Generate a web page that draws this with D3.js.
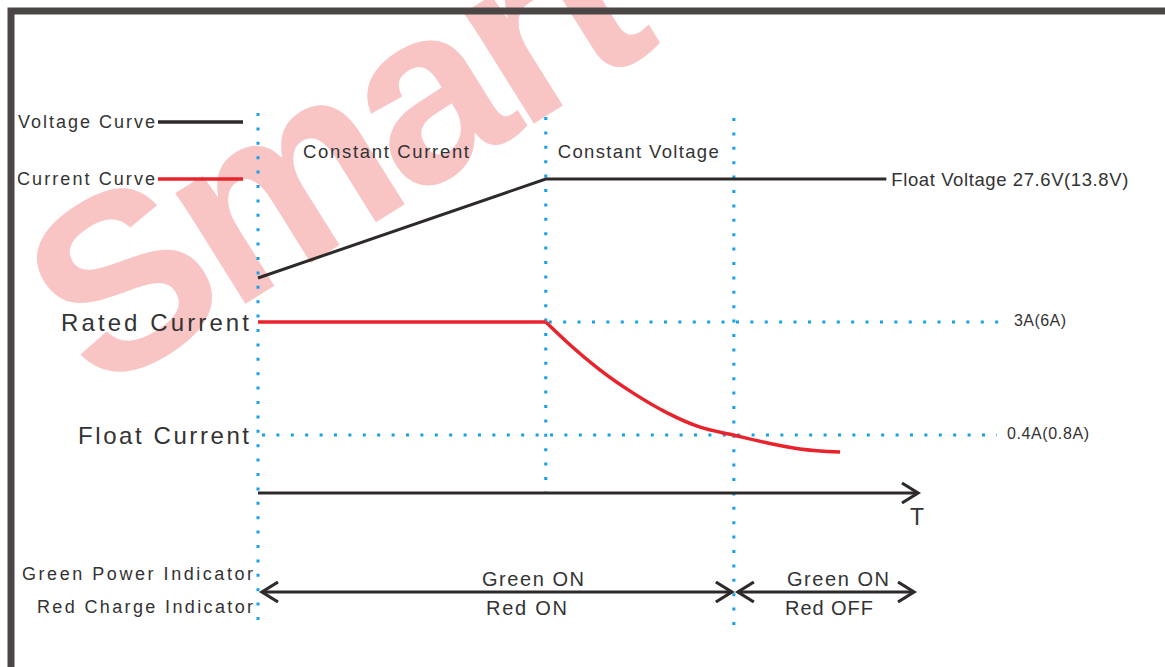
<!DOCTYPE html>
<html>
<head>
<meta charset="utf-8">
<script src="https://cdn.jsdelivr.net/npm/d3@7"></script>
<style>
  html, body { margin: 0; padding: 0; background: #fff; }
  svg { display: block; }
  text { font-family: "Liberation Sans", Arial, sans-serif; fill: #333; }
</style>
</head>
<body>
<svg id="chart" width="1165" height="667"></svg>
<script>
// ---------------- data ----------------
const phaseNames = ["Constant Current", "Constant Voltage"];
const phaseBounds = [0, 43.6, 72.1];            // time units (0..100)
const voltageTime = [0, 43.6, 95.2];
const voltageValue = [24.0, 27.6, 27.6];        // V
const currentTime = [0, 43.6, 46.8, 51.8, 56.8, 62.0, 67.0, 72.0, 77.1, 82.1, 88.2];
const currentValue = [3.0, 3.0, 2.54, 1.90, 1.37, 0.91, 0.58, 0.40, 0.22, 0.08, 0.01]; // A
const refNames = ["Rated Current", "Float Current"];
const refValues = [3.0, 0.4];
const refLabels = ["3A(6A)", "0.4A(0.8A)"];
const floatVoltageLabel = "Float Voltage 27.6V(13.8V)";
const legendNames = ["Voltage Curve", "Current Curve"];
const indicatorNames = ["Green Power Indicator", "Red Charge Indicator"];
const indicatorSpans = [[0, 72.1], [72.1, 99.7]];
const indicatorGreen = ["Green ON", "Green ON"];
const indicatorRed = ["Red ON", "Red OFF"];
const axisLabel = "T";
const watermark = "Smart";

// ---------------- styles ----------------
const C_BLACK = "#2e2a2a", C_RED = "#e8232b", C_BLUE = "#16a0e6", C_FRAME = "#4a4646";
const DOT = "3 11.4";

const svg = d3.select("#chart");
const x = d3.scaleLinear().domain([0, 100]).range([258, 918]);
const yA = d3.scaleLinear().domain([0, 3]).range([452.4, 322]);
const yV = d3.scaleLinear().domain([24, 27.6]).range([278, 179]);

// watermark
svg.append("text")
  .attr("transform", "translate(98,396) rotate(-32)")
  .attr("font-size", 248).attr("font-weight", "bold")
  .attr("letter-spacing", -9)
  .style("fill", "#f8c4c4")
  .text(watermark);

// frame
svg.append("path").attr("d", "M11,667 V11 H1165")
  .attr("fill", "none").attr("stroke", C_FRAME).attr("stroke-width", 7);

// vertical dotted phase lines
const vLines = [[phaseBounds[0], 113, 620], [phaseBounds[1], 117, 494], [phaseBounds[2], 118, 625]];
svg.selectAll(".vline").data(vLines).join("line")
  .attr("x1", d => x(d[0])).attr("x2", d => x(d[0]))
  .attr("y1", d => d[1]).attr("y2", d => d[2])
  .attr("stroke", C_BLUE).attr("stroke-width", 3).attr("stroke-dasharray", DOT);

// horizontal dotted reference lines
const hStarts = [x(phaseBounds[1]) + 3, 262];
const hEnds = [1000, 997];
svg.selectAll(".hline").data(refValues).join("line")
  .attr("x1", (d, i) => hStarts[i]).attr("x2", (d, i) => hEnds[i])
  .attr("y1", d => yA(d)).attr("y2", d => yA(d))
  .attr("stroke", C_BLUE).attr("stroke-width", 3).attr("stroke-dasharray", DOT);

// ref labels
svg.selectAll(".refname").data(refNames).join("text")
  .attr("x", 249).attr("y", (d, i) => yA(refValues[i]) + 9)
  .attr("text-anchor", "end").attr("font-size", 24)
  .attr("textLength", (d, i) => [188, 171][i]).attr("lengthAdjust", "spacing")
  .text(d => d);
svg.selectAll(".reflabel").data(refLabels).join("text")
  .attr("x", (d, i) => [1014, 1007][i]).attr("y", (d, i) => yA(refValues[i]) + 4)
  .attr("font-size", 16)
  .attr("textLength", (d, i) => [52, 82][i]).attr("lengthAdjust", "spacing")
  .text(d => d);

// voltage curve
const vData = voltageTime.map((t, i) => [t, voltageValue[i]]);
svg.append("path").datum(vData)
  .attr("d", d3.line().x(d => x(d[0])).y(d => yV(d[1])))
  .attr("fill", "none").attr("stroke", C_BLACK).attr("stroke-width", 3);
svg.append("text").attr("x", x(voltageTime[2]) + 5).attr("y", yV(voltageValue[2]) + 7)
  .attr("font-size", 18.5).attr("textLength", 237).attr("lengthAdjust", "spacing")
  .text(floatVoltageLabel);

// current curve: flat constant-current segment + decaying segment
const cData = currentTime.map((t, i) => [t, currentValue[i]]);
const cLine = d3.line().x(d => x(d[0])).y(d => yA(d[1]));
svg.append("path").datum(cData.slice(0, 2))
  .attr("d", cLine)
  .attr("fill", "none").attr("stroke", C_RED).attr("stroke-width", 3.5);
svg.append("path").datum(cData.slice(1))
  .attr("d", cLine.curve(d3.curveMonotoneX))
  .attr("fill", "none").attr("stroke", C_RED).attr("stroke-width", 3.5);

// phase names
svg.selectAll(".phase").data(phaseNames).join("text")
  .attr("x", (d, i) => x(phaseBounds[i]) + [45, 12][i]).attr("y", 158)
  .attr("font-size", 18.5)
  .attr("textLength", (d, i) => [166, 161][i]).attr("lengthAdjust", "spacing")
  .text(d => d);

// legend
const legendY = [122, 179];
const legendC = [C_BLACK, C_RED];
svg.selectAll(".legline").data(legendNames).join("line")
  .attr("x1", 158).attr("x2", 243).attr("y1", (d, i) => legendY[i]).attr("y2", (d, i) => legendY[i])
  .attr("stroke", (d, i) => legendC[i]).attr("stroke-width", 3.5);
svg.selectAll(".legtext").data(legendNames).join("text")
  .attr("x", 155).attr("y", (d, i) => legendY[i] + 6).attr("text-anchor", "end")
  .attr("font-size", 18)
  .attr("textLength", (d, i) => [137, 138][i]).attr("lengthAdjust", "spacing")
  .text(d => d);

// time axis
const axisY = 493;
svg.append("line").attr("x1", x(0)).attr("x2", x(100)).attr("y1", axisY).attr("y2", axisY)
  .attr("stroke", C_BLACK).attr("stroke-width", 3);
function chevron(tipX, y, dir) {
  svg.append("path")
    .attr("d", `M${tipX - dir * 16},${y - 10} L${tipX},${y} L${tipX - dir * 16},${y + 10}`)
    .attr("fill", "none").attr("stroke", C_BLACK).attr("stroke-width", 3.2)
    .attr("stroke-linejoin", "miter");
}
chevron(x(100), axisY, 1);
svg.append("text").attr("x", x(100) - 8).attr("y", 525).attr("font-size", 23).text(axisLabel);

// indicator rows
svg.selectAll(".indname").data(indicatorNames).join("text")
  .attr("x", 253).attr("y", (d, i) => [580, 613][i]).attr("text-anchor", "end")
  .attr("font-size", 18)
  .attr("textLength", (d, i) => [231, 216][i]).attr("lengthAdjust", "spacing")
  .text(d => d);

const arrowY = 592;
indicatorSpans.forEach((s, i) => {
  const a = x(s[0]) + 4, b = x(s[1]) - 2;
  svg.append("line").attr("x1", a).attr("x2", b).attr("y1", arrowY).attr("y2", arrowY)
    .attr("stroke", C_BLACK).attr("stroke-width", 3);
  chevron(a, arrowY, -1);
  chevron(b, arrowY, 1);
});
svg.selectAll(".green").data(indicatorGreen).join("text")
  .attr("x", (d, i) => [482, 787][i]).attr("y", 586).attr("font-size", 20)
  .attr("textLength", 102).attr("lengthAdjust", "spacing")
  .text(d => d);
svg.selectAll(".red").data(indicatorRed).join("text")
  .attr("x", (d, i) => [486, 785][i]).attr("y", 615).attr("font-size", 20)
  .attr("textLength", (d, i) => [81, 88][i]).attr("lengthAdjust", "spacing")
  .text(d => d);
</script>
</body>
</html>
